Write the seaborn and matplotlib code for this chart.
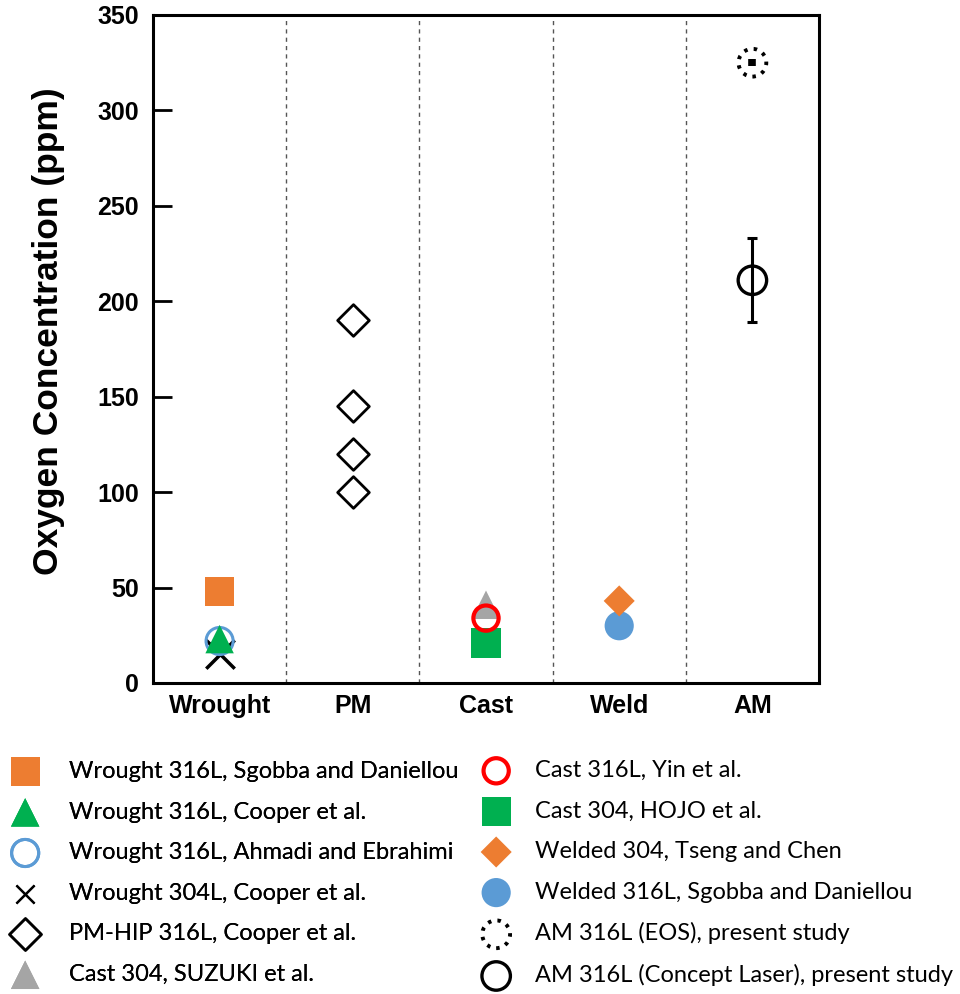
import matplotlib
matplotlib.use("Agg")
import matplotlib.pyplot as plt
import seaborn as sns
import numpy as np
import pandas as pd

sns.set_theme(style="white")
plt.rcParams['font.family'] = ['Liberation Sans', 'DejaVu Sans']
plt.rcParams['text.color'] = 'black'
plt.rcParams['axes.labelcolor'] = 'black'
plt.rcParams['xtick.color'] = 'black'
plt.rcParams['ytick.color'] = 'black'

# ---------------- data ----------------
categories = ["Wrought", "PM", "Cast", "Weld", "AM"]

series_labels = [
    "Wrought 316L, Sgobba and Daniellou",
    "Wrought 316L, Cooper et al.",
    "Wrought 316L, Ahmadi and Ebrahimi",
    "Wrought 304L, Cooper et al.",
    "PM-HIP 316L, Cooper et al.",
    "Cast 304, SUZUKI et al.",
    "Cast 316L, Yin et al.",
    "Cast 304, HOJO et al.",
    "Welded 304, Tseng and Chen",
    "Welded 316L, Sgobba and Daniellou",
    "AM 316L (EOS), present study",
    "AM 316L (Concept Laser), present study",
]
series_category = ["Wrought", "Wrought", "Wrought", "Wrought", "PM",
                   "Cast", "Cast", "Cast", "Weld", "Weld", "AM", "AM"]
series_values = [
    [48],
    [23],
    [22],
    [15],
    [190, 145, 120, 100],
    [41],
    [34],
    [21],
    [43],
    [30],
    [325],
    [211],
]
am_eos_err = [1.8]
am_cl_err = [22]

# ---------------- styles ----------------
styles = [
    dict(marker="s", s=441, color="#ED7D31", edgecolor="none", linewidth=0),
    dict(marker="^", s=420, color="#00B050", edgecolor="none", linewidth=0),
    dict(marker="o", s=380, facecolor="none", edgecolor="#5B9BD5", linewidth=2.2),
    dict(marker="x", s=420, color="black", linewidth=2.5),
    dict(marker="D", s=260, facecolor="white", edgecolor="black", linewidth=2.0),
    dict(marker="^", s=420, color="#A5A5A5", edgecolor="none", linewidth=0),
    dict(marker="o", s=330, facecolor="none", edgecolor="#FF0000", linewidth=3.0),
    dict(marker="s", s=441, color="#00B050", edgecolor="none", linewidth=0),
    dict(marker="D", s=250, color="#ED7D31", edgecolor="none", linewidth=0),
    dict(marker="o", s=441, color="#5B9BD5", edgecolor="none", linewidth=0),
    dict(marker="o", s=400, facecolor="none", edgecolor="black", linewidth=2.8, linestyle=(0, (0.9, 1.6))),
    dict(marker="o", s=420, facecolor="none", edgecolor="black", linewidth=2.4),
]
z_order = [3, 5, 4, 3, 3, 3, 5, 4, 4, 3, 3, 4]

fig = plt.figure(figsize=(9.6, 9.94), dpi=100)
ax = fig.add_axes([153/960, 1 - 683/994, (819-153)/960, (683-15)/994])

cat_pos = {c: i for i, c in enumerate(categories)}

rows = []
for lab, cat, vals in zip(series_labels, series_category, series_values):
    for v in vals:
        rows.append(dict(label=lab, x=cat_pos[cat], y=v))
df = pd.DataFrame(rows)

# error bars for AM (drawn behind markers)
am_x = cat_pos["AM"]
ax.errorbar([am_x], series_values[11], yerr=am_cl_err, fmt="none",
            ecolor="black", elinewidth=2.2, capsize=3.8, capthick=2.2, zorder=2)
ax.errorbar([am_x], series_values[10], yerr=am_eos_err, fmt="none",
            ecolor="black", elinewidth=5.5, capsize=0, zorder=2)

handles = []
for lab, st, z in zip(series_labels, styles, z_order):
    sub = df[df["label"] == lab]
    st = dict(st)
    s = st.pop("s")
    sns.scatterplot(data=sub, x="x", y="y", ax=ax, s=s, label=lab,
                    zorder=z, legend=False, **st)
    handles.append(ax.collections[-1])

# dashed separators
for i in range(len(categories) - 1):
    ax.axvline(i + 0.5, color="#555555", linestyle=(0, (3, 3)), linewidth=1.0, zorder=1)

ax.set_xlim(-0.5, len(categories) - 0.5)
ax.set_ylim(0, 350)
ax.set_xticks(range(len(categories)))
ax.set_xticklabels(categories, fontsize=18, fontweight="bold")
ax.set_yticks(np.arange(0, 351, 50))
ax.set_yticklabels([str(v) for v in range(0, 351, 50)], fontsize=18, fontweight="bold")
ax.tick_params(axis="y", direction="in", length=14, width=2, pad=10, left=True)
ax.tick_params(axis="x", length=0, pad=8)
ax.set_xlabel("")
ax.set_ylabel("Oxygen Concentration (ppm)", fontsize=25.5, fontweight="bold")
ax.yaxis.set_label_coords(-0.132, 0.527)
for sp in ax.spines.values():
    sp.set_linewidth(2.2)
    sp.set_color("black")

# legends
lfont = dict(family=["Lato", "DejaVu Sans"], size=17)
leg1 = fig.legend(handles[:6], series_labels[:6], loc="upper left",
                  bbox_to_anchor=(11/960, 1 - 761/994), frameon=False, prop=lfont,
                  handlelength=1.2, handletextpad=1.25, labelspacing=0.83,
                  borderpad=0, borderaxespad=0, scatterpoints=1)
leg2 = fig.legend(handles[6:], series_labels[6:], loc="upper left",
                  bbox_to_anchor=(482/960, 1 - 760/994), frameon=False, prop=lfont,
                  handlelength=1.2, handletextpad=1.05, labelspacing=0.83,
                  borderpad=0, borderaxespad=0, scatterpoints=1)
fig.add_artist(leg1)
# smaller cross in the legend, as in the reference
leg1.legend_handles[3].set_sizes([170])
leg1.legend_handles[3].set_linewidth(1.6)

fig.savefig("out.png", dpi=100)
